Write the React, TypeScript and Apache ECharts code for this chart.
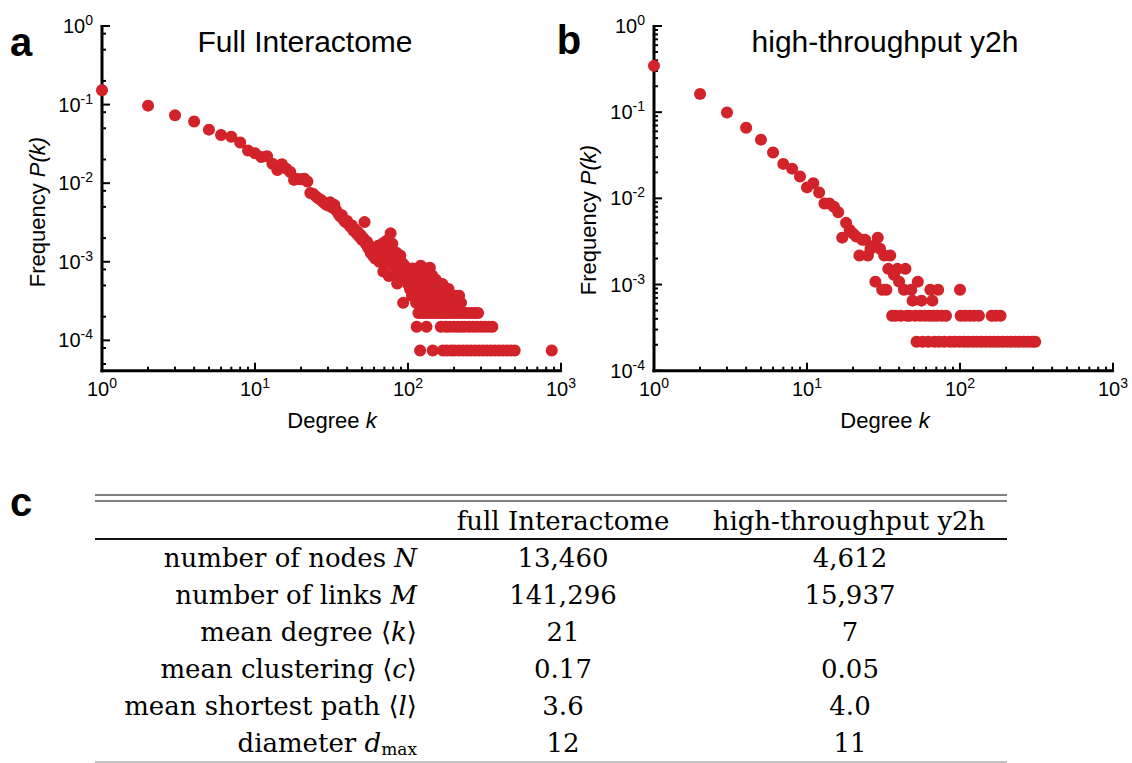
import React, { useEffect, useRef } from "react";
import * as echarts from "echarts";

// ---------- data ----------
const xDecades = [0, 1, 2, 3];
const leftYDecades = [-4, -3, -2, -1, 0];
const rightYDecades = [-4, -3, -2, -1, 0];
const minorMultipliers = [2, 3, 4, 5, 6, 7, 8, 9];
const leftYMinorMultipliers = [2, 5, 8];
const leftYMin = -4.386;
const rightYMin = -4;

// Full interactome: degree k and frequency P(k)
const leftK = [
  1, 2, 3, 4, 5, 6, 7, 8, 9, 10, 11, 12, 13, 14, 15, 16, 17, 18, 19, 20, 21, 22,
  23, 24, 25, 26, 27, 28, 29, 30, 31, 32, 33, 34, 35, 36, 37, 38, 39, 40, 41, 42,
  43, 44, 45, 46, 47, 48, 49, 50, 51, 52, 53, 54, 55, 56, 57, 58, 59, 60, 61, 62,
  63, 64, 65, 66, 67, 68, 69, 70, 71, 72, 73, 74, 75, 76, 77, 78, 79, 80, 82, 83,
  84, 85, 86, 88, 89, 90, 91, 92, 93, 94, 95, 97, 98, 100, 101, 103, 104, 106, 107,
  109, 110, 112, 113, 115, 116, 118, 119, 121, 122, 124, 125, 127, 128, 130, 131,
  133, 134, 136, 137, 139, 141, 142, 144, 146, 148, 150, 152, 154, 156, 158, 160,
  162, 165, 168, 170, 173, 176, 180, 184, 188, 192, 196, 200, 205, 210, 216, 222,
];
const leftP = [
  0.152, 0.097, 0.073, 0.061, 0.048, 0.041, 0.039, 0.033, 0.026, 0.024, 0.0215,
  0.022, 0.0177, 0.0147, 0.0174, 0.0153, 0.0139, 0.011, 0.0113, 0.0112, 0.0114,
  0.0105, 0.0075, 0.0073, 0.0068, 0.0064, 0.0061, 0.0057, 0.0054, 0.0052, 0.0057,
  0.0049, 0.0053, 0.0045, 0.0041, 0.0038, 0.0039, 0.0034, 0.0032, 0.0033, 0.003,
  0.0028, 0.0029, 0.0025, 0.0026, 0.0023, 0.0024, 0.0021, 0.0022, 0.0019, 0.002,
  0.0032, 0.0017, 0.0018, 0.0015, 0.0016, 0.0013, 0.0014, 0.0012, 0.0013, 0.0011,
  0.0015, 0.0012, 0.0016, 0.001, 0.0014, 0.0011, 0.0017, 0.00075, 0.0013, 0.0018,
  0.001, 0.0014, 0.0019, 0.00066, 0.0015, 0.0023, 0.0012, 0.0017, 0.0009, 0.0011,
  0.00065, 0.0013, 0.00053, 0.001, 0.00082, 0.0012, 0.00082, 0.00074, 0.00096,
  0.0003, 0.00067, 0.00089, 0.00059, 0.00082, 0.00052, 0.00074, 0.00045, 0.00067,
  0.00037, 0.00082, 0.00059, 0.00045, 0.00052, 0.0003, 0.00067, 0.00037, 0.00059,
  0.00045, 0.00089, 0.0003, 0.00052, 0.00074, 0.00037, 0.00059, 0.00082, 0.00045,
  0.00067, 0.0003, 0.00052, 0.00074, 0.00084, 0.00059, 0.00037, 0.00067, 0.00045,
  0.00052, 0.0003, 0.00059, 0.00037, 0.00045, 0.00052, 0.0003, 0.00045, 0.00037,
  0.00052, 0.0003, 0.00045, 0.00037, 0.0003, 0.00045, 0.00037, 0.0003, 0.00037,
  0.0003, 0.00037, 0.0003, 0.00037, 0.0003,
];
// lowest frequency levels (3, 2 and 1 protein with that degree)
const leftRowLevels = [2.23e-4, 1.49e-4, 7.43e-5];
const leftRow3K = [117, 123, 129, 135, 143, 151, 159, 167, 175, 183, 193, 203, 213, 225, 237, 249, 263, 275, 287];
const leftRow2K = [114, 132, 164, 177, 187, 199, 211, 223, 235, 251, 267, 283, 301, 319, 339, 356];
const leftRow1K = [120, 145, 169, 179, 191, 201, 215, 229, 243, 257, 273, 291, 309, 327, 347, 369, 393, 417, 443, 469, 498, 870];

// high-throughput y2h
const rightK = [
  1, 2, 3, 4, 5, 6, 7, 8, 9, 10, 11, 12, 13, 14, 15, 16, 17, 18, 19, 20, 21, 22,
  23, 24, 25, 26, 27, 28, 29, 30, 31, 32, 33, 34, 35, 37, 39, 40, 43, 44, 48, 49,
  53, 56, 64, 66, 72, 100,
];
const rightP = [
  0.345, 0.163, 0.099, 0.066, 0.048, 0.034, 0.0251, 0.0221, 0.0179, 0.0134, 0.015,
  0.0117, 0.0087, 0.0087, 0.008, 0.0069, 0.0035, 0.0052, 0.0043, 0.0039, 0.0036,
  0.00217, 0.0033, 0.0033, 0.00217, 0.0026, 0.0028, 0.00108, 0.0035, 0.0026,
  0.00087, 0.00217, 0.00087, 0.00152, 0.00217, 0.0013, 0.00152, 0.00108, 0.00087,
  0.00152, 0.00087, 0.00065, 0.00108, 0.00065, 0.00087, 0.00065, 0.00087, 0.00087,
];
const rightRowLevels = [4.34e-4, 2.17e-4];
const rightRow2K = [36, 38, 41, 45, 47, 51, 55, 59, 63, 67, 71, 76, 81, 101, 108, 116, 124, 133, 161, 171, 184];
const rightRow1K = [52, 57, 62, 68, 73, 79, 86, 92, 99, 106, 113, 121, 129, 138, 147, 157, 167, 178, 190, 203, 216, 230, 245, 261, 278, 296, 310];

const panelTitles = ["Full Interactome", "high-throughput y2h"];
const panelLetters = ["a", "b", "c"];
const xAxisName = "Degree ";
const yAxisName = "Frequency ";

const tableHeaders = ["full Interactome", "high-throughput y2h"];
const tableRowLabels = [
  "number of nodes {i|N}",
  "number of links {i|M}",
  "mean degree ⟨{i|k}⟩",
  "mean clustering ⟨{i|c}⟩",
  "mean shortest path ⟨{i|l}⟩",
  "diameter {i|d}{sub|max}",
];
const tableCol1 = ["13,460", "141,296", "21", "0.17", "3.6", "12"];
const tableCol2 = ["4,612", "15,937", "7", "0.05", "4.0", "11"];

// ---------- styling helpers ----------
const RED = "#d2232a";
const SANS = '"Liberation Sans", Arial, Helvetica, sans-serif';
const SERIF = '"DejaVu Serif", "Liberation Serif", serif';

const toLog = (ks: number[], ps: number[]) => ks.map((k, i) => [Math.log10(k), Math.log10(ps[i])]);
const rowLog = (ks: number[], level: number) => ks.map((k) => [Math.log10(k), Math.log10(level)]);

const minorValues = (decFrom: number, decTo: number, mults: number[], lo: number, hi: number) => {
  const out: number[] = [];
  for (let d = decFrom; d <= decTo; d++) {
    for (const m of mults) {
      const v = d + Math.log10(m);
      if (v > lo && v < hi) out.push(v);
    }
  }
  return out;
};

const labelRich = {
  b: { fontSize: 20, fontFamily: SANS, color: "#000", lineHeight: 24 },
  s: { fontSize: 14, fontFamily: SANS, color: "#000", lineHeight: 12, height: 12, verticalAlign: "top" },
};
const fmt = (v: number) => `{b|10}{s|${Math.round(v)}}`;

function labelAxis(min: number, max: number, labels: number[], position: string, isY: boolean) {
  return {
    type: "value",
    gridIndex: 0,
    min,
    max,
    position,
    axisLine: { show: false, onZero: false },
    axisTick: { show: false },
    axisLabel: { show: true, customValues: labels, formatter: fmt, rich: labelRich, margin: isY ? 9 : 6 },
    splitLine: { show: false },
  };
}

const txt = (x: number, y: number, text: string, size: number, extra: any = {}, styleExtra: any = {}) => ({
  type: "text",
  x,
  y,
  ...extra,
  style: {
    text,
    fontSize: size,
    fontFamily: SANS,
    fill: "#000",
    align: "center",
    verticalAlign: "middle",
    ...styleExtra,
  },
});

const nameRich = {
  n: { fontSize: 22, fontFamily: SANS, color: "#000" },
  i: { fontSize: 22, fontFamily: SANS, fontStyle: "italic", color: "#000" },
};

type Frame = { yMin: number; yDecades: number[]; yMinor: number[] };

// axis lines and log ticks, placed through the grid's own scales (convertToPixel)
function frameGraphic(chart: any, f: Frame) {
  const xMinor = minorValues(0, 2, minorMultipliers, 0, 3);
  const px = (x: number, y: number) => chart.convertToPixel({ gridIndex: 0 }, [x, y]);
  const o = px(0, f.yMin);
  const xEnd = px(3, f.yMin);
  const yEnd = px(0, 0);
  const st = (w: number) => ({ stroke: "#000", lineWidth: w });
  const els: any[] = [];
  els.push({ type: "line", z: 1, shape: { x1: o[0] - 1.5, y1: o[1], x2: xEnd[0] + 1, y2: o[1] }, style: st(3) });
  els.push({ type: "line", z: 1, shape: { x1: o[0], y1: o[1] + 1.5, x2: o[0], y2: yEnd[1] - 1 }, style: st(3) });
  const xt = (v: number, len: number) => {
    const p = px(v, f.yMin);
    els.push({ type: "line", z: 1, shape: { x1: p[0], y1: o[1], x2: p[0], y2: o[1] - len }, style: st(2) });
  };
  const yt = (v: number, len: number) => {
    const p = px(0, v);
    els.push({ type: "line", z: 1, shape: { x1: o[0], y1: p[1], x2: o[0] + len, y2: p[1] }, style: st(2) });
  };
  xDecades.forEach((v) => xt(v, 8));
  xMinor.forEach((v) => xt(v, 4));
  f.yDecades.forEach((v) => yt(v, 8));
  f.yMinor.forEach((v) => yt(v, 4));
  return els;
}

function plotOption(p: {
  left: number;
  yMin: number;
  yDecades: number[];
  data: number[][];
  letter: string;
  letterX: number;
  letterY: number;
  title: string;
  titleX: number;
  nameX: number;
  yNameX: number;
  yNameY: number;
}) {
  return {
    animation: false,
    grid: [{ left: p.left, top: 26, width: 459, height: 344.7 }],
    xAxis: [labelAxis(0, 3, xDecades, "bottom", false)],
    yAxis: [labelAxis(p.yMin, 0, p.yDecades, "left", true)],
    series: [
      {
        type: "scatter",
        xAxisIndex: 0,
        yAxisIndex: 0,
        data: p.data,
        symbol: "circle",
        symbolSize: 12,
        itemStyle: { color: RED, opacity: 1 },
        clip: false,
        silent: true,
        z: 5,
      },
    ],
    graphic: [
      txt(p.letterX, p.letterY, p.letter, 40, {}, { fontWeight: "bold" }),
      txt(p.titleX, 41, p.title, 30),
      txt(p.nameX, 420, `{n|${xAxisName}}{i|k}`, 22, {}, { rich: nameRich }),
      txt(p.yNameX, p.yNameY, `{n|${yAxisName}}{i|P(k)}`, 22, { rotation: Math.PI / 2 }, { rich: nameRich }),
    ],
  };
}

function tableOption() {
  const tableRich = {
    i: { fontSize: 26, fontFamily: SERIF, fontStyle: "italic", color: "#000", lineHeight: 30 },
    sub: { fontSize: 17, fontFamily: SERIF, color: "#000", lineHeight: 17, height: 17, verticalAlign: "bottom" },
  };
  const rowYs = [557.5, 594.5, 631.5, 668.5, 705.5, 742.5];
  const els: any[] = [];
  els.push({ type: "line", shape: { x1: 95, y1: 495, x2: 1007, y2: 495 }, style: { stroke: "#555", lineWidth: 1.6 } });
  els.push({ type: "line", shape: { x1: 95, y1: 501, x2: 1007, y2: 501 }, style: { stroke: "#555", lineWidth: 1.6 } });
  els.push({ type: "line", shape: { x1: 95, y1: 539, x2: 1007, y2: 539 }, style: { stroke: "#111", lineWidth: 2 } });
  els.push({ type: "line", shape: { x1: 95, y1: 762, x2: 1007, y2: 762 }, style: { stroke: "#888", lineWidth: 1.2 } });
  els.push(txt(21, 502, panelLetters[2], 40, {}, { fontWeight: "bold" }));
  els.push(txt(563, 521, tableHeaders[0], 26, {}, { fontFamily: SERIF }));
  els.push(txt(849, 521, tableHeaders[1], 26, {}, { fontFamily: SERIF }));
  tableRowLabels.forEach((lab, i) => {
    els.push(txt(417, rowYs[i], lab, 26, {}, { fontFamily: SERIF, align: "right", lineHeight: 30, rich: tableRich }));
    els.push(txt(563, rowYs[i], tableCol1[i], 26, {}, { fontFamily: SERIF }));
    els.push(txt(850, rowYs[i], tableCol2[i], 26, {}, { fontFamily: SERIF }));
  });
  return { animation: false, graphic: els };
}

function Layer({ build, frame }: { build: () => any; frame?: Frame }) {
  const ref = useRef<HTMLDivElement>(null);
  useEffect(() => {
    if (!ref.current) return;
    const chart = echarts.init(ref.current, undefined, { renderer: "svg" });
    const opt = build();
    chart.setOption(opt);
    if (frame) {
      try {
        const lines = frameGraphic(chart, frame);
        chart.setOption({ graphic: [...opt.graphic, ...lines] });
      } catch (e) {
        // keep the chart without the frame if pixel conversion fails
      }
    }
    return () => chart.dispose();
  }, []);
  return <div ref={ref} style={{ position: "absolute", left: 0, top: 0, width: 1132, height: 763 }} />;
}

const leftFrame: Frame = {
  yMin: leftYMin,
  yDecades: leftYDecades,
  yMinor: minorValues(-5, -1, leftYMinorMultipliers, leftYMin, 0),
};
const rightFrame: Frame = {
  yMin: rightYMin,
  yDecades: rightYDecades,
  yMinor: minorValues(-4, -1, minorMultipliers, rightYMin, 0),
};

const buildLeft = () =>
  plotOption({
    left: 102,
    yMin: leftYMin,
    yDecades: leftYDecades,
    data: [
      ...toLog(leftK, leftP),
      ...rowLog(leftRow3K, leftRowLevels[0]),
      ...rowLog(leftRow2K, leftRowLevels[1]),
      ...rowLog(leftRow1K, leftRowLevels[2]),
    ],
    letter: panelLetters[0],
    letterX: 21,
    letterY: 42,
    title: panelTitles[0],
    titleX: 305,
    nameX: 332,
    yNameX: 37,
    yNameY: 212,
  });

const buildRight = () =>
  plotOption({
    left: 654,
    yMin: rightYMin,
    yDecades: rightYDecades,
    data: [...toLog(rightK, rightP), ...rowLog(rightRow2K, rightRowLevels[0]), ...rowLog(rightRow1K, rightRowLevels[1])],
    letter: panelLetters[1],
    letterX: 569,
    letterY: 40,
    title: panelTitles[1],
    titleX: 885,
    nameX: 885,
    yNameX: 588,
    yNameY: 220,
  });

export default function App() {
  return (
    <div style={{ position: "absolute", left: 0, top: 0, width: 1132, height: 763, background: "#fff" }}>
      <Layer build={tableOption} />
      <Layer build={buildRight} frame={rightFrame} />
      <Layer build={buildLeft} frame={leftFrame} />
    </div>
  );
}
